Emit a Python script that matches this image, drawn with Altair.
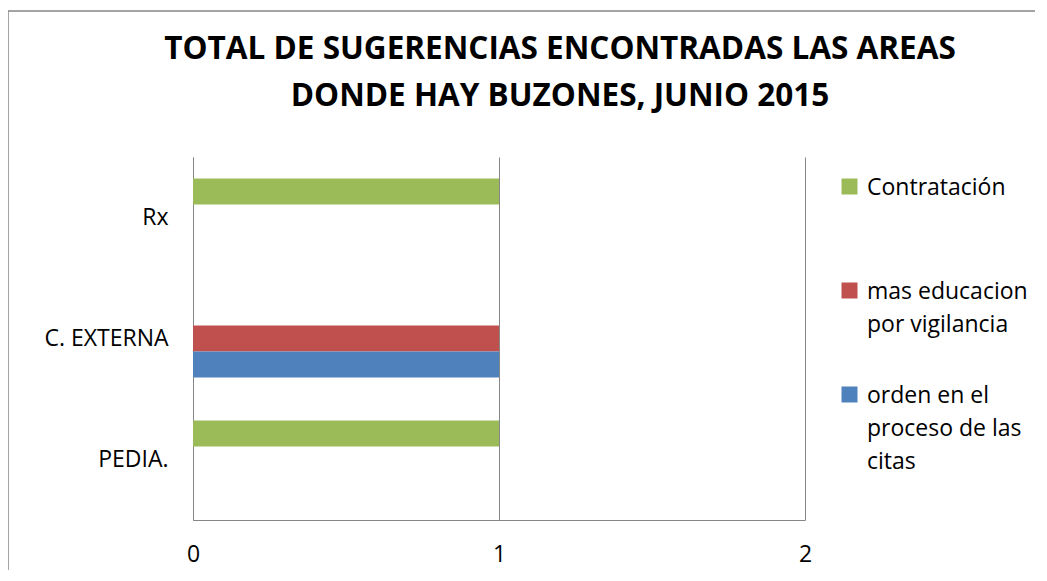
import altair as alt
import pandas as pd

categories = ["PEDIA.", "C. EXTERNA", "Rx"]
series = ["Contratación", "mas educacion por vigilancia", "orden en el proceso de las citas"]
series_lines = [["Contratación", " ", " "], ["mas educacion", "por vigilancia", " "],
                ["orden en el", "proceso de las", "citas"]]
values = {
    "Contratación": [1, 0, 1],
    "mas educacion por vigilancia": [0, 1, 0],
    "orden en el proceso de las citas": [0, 1, 0],
}
colors = ["#9BBB59", "#C0504D", "#4F81BD"]
x_domain = [0, 2]

rows = []
for s in series:
    for c, v in zip(categories, values[s]):
        rows.append({"area": c, "serie": s, "valor": v})
df = pd.DataFrame(rows)

label_expr = " : ".join(
    f"datum.label == '{s}' ? {lines!r}" for s, lines in zip(series, series_lines)
) + " : datum.label"

FONT = "Open Sans"
GRAY = "#868686"

bars = alt.Chart(df).mark_bar(size=26).encode(
    x=alt.X("valor:Q", scale=alt.Scale(domain=x_domain, nice=False),
            axis=alt.Axis(tickCount=2, title=None, grid=True,
                          gridColor=GRAY, gridWidth=1, gridOpacity=1, domainColor=GRAY,
                          ticks=False, labelFlush=False, labelOverlap=False,
                          labelFontSize=23, labelPadding=23, labelColor="#000000",
                          labelFont=FONT)),
    y=alt.Y("area:N", sort=list(reversed(categories)),
            scale=alt.Scale(paddingInner=0, paddingOuter=0),
            axis=alt.Axis(title=None, ticks=False, domainColor=GRAY, grid=False,
                          labelFontSize=23, labelPadding=25, labelColor="#000000",
                          labelFont=FONT, labelFontWeight="normal")),
    yOffset=alt.YOffset("serie:N", sort=series,
                        scale=alt.Scale(paddingInner=0, paddingOuter=0.83)),
    color=alt.Color("serie:N",
                    scale=alt.Scale(domain=series, range=colors),
                    legend=alt.Legend(title=None, orient="none", legendX=645, legendY=8,
                                      symbolType="M-1,0.25L1,0.25L1,2.25L-1,2.25Z",
                                      symbolSize=256,
                                      symbolStrokeWidth=0, labelFontSize=23,
                                      labelFont=FONT, labelColor="#000000",
                                      labelExpr=label_expr, labelLimit=300,
                                      rowPadding=3, labelOffset=6,
                                      labelBaseline="top")),
)

frame = alt.Chart(pd.DataFrame({"k": [0]}))
left_border = frame.mark_rule(color=GRAY, strokeWidth=1.5).encode(
    x=alt.value(-185), y=alt.value(-146), y2=alt.value(430))
top_border = frame.mark_rule(color=GRAY, strokeWidth=1.5).encode(
    x=alt.value(-185), x2=alt.value(860), y=alt.value(-146))

chart = alt.layer(bars, left_border, top_border).properties(
    width=612,
    height=363,
    title=alt.TitleParams(
        text=["TOTAL DE SUGERENCIAS ENCONTRADAS LAS AREAS", "DONDE HAY BUZONES, JUNIO 2015"],
        fontSize=31.5, font=FONT, fontWeight="bold", color="#000000",
        lineHeight=47, anchor="middle", frame="group", dx=61, offset=-102,
    ),
    autosize=alt.AutoSizeParams(type="none"),
    padding={"left": 185, "top": 149, "right": 230, "bottom": 50},
).configure(
    background="white",
    style={"guide-label": {"lineHeight": 33}},
    view=alt.ViewConfig(stroke=None, strokeWidth=0),
)

chart.save("out.html", embed_options={"renderer": "svg", "actions": False})
